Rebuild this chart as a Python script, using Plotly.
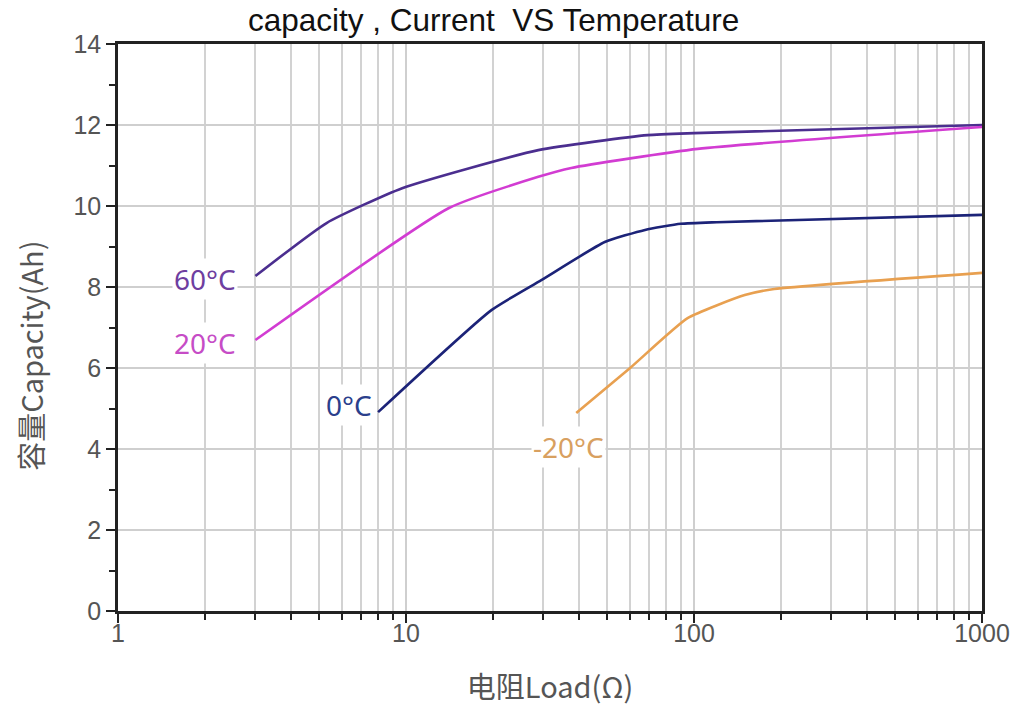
import math
import plotly.graph_objects as go

# Data (load in ohms, capacity in Ah)
load_60 = [3.0, 5.3, 9.7, 28.8, 69, 100, 1000]
cap_60 = [8.27, 9.58, 10.44, 11.38, 11.75, 11.8, 12.0]

load_20 = [3.0, 14.1, 28.8, 37.5, 103, 1000]
cap_20 = [6.69, 9.95, 10.72, 10.94, 11.41, 11.95]

load_0 = [8.0, 19.8, 29.5, 49, 67.6, 90, 120, 1000]
cap_0 = [4.91, 7.43, 8.17, 9.11, 9.41, 9.56, 9.6, 9.78]

load_m20 = [39, 60, 95, 150, 190, 1000]
cap_m20 = [4.89, 6.0, 7.23, 7.8, 7.95, 8.35]

series_names = ["60°C", "20°C", "0°C", "-20°C"]
line_colors = ["#4b2e8f", "#d23cd2", "#1c2378", "#e8a050"]
label_colors = ["#6e3ea0", "#c64cc6", "#2b3f8c", "#d8a060"]
label_x = [2.0, 2.0, 6.35, 36.6]
label_y = [8.2, 6.62, 5.09, 4.05]

x_major = [1, 10, 100, 1000]
x_major_text = ["1", "10", "100", "1000"]
x_minor = [m * d for d in (1, 10, 100) for m in range(2, 10)]

fig = go.Figure()
for xs, ys, name, col in zip([load_60, load_20, load_0, load_m20],
                             [cap_60, cap_20, cap_0, cap_m20],
                             series_names, line_colors):
    fig.add_trace(go.Scatter(x=xs, y=ys, mode="lines", name=name,
                             line=dict(color=col, width=2.6, shape="spline", smoothing=0.5),
                             showlegend=False))

for name, col, lx, ly in zip(series_names, label_colors, label_x, label_y):
    fig.add_annotation(x=math.log10(lx), y=ly, xref="x", yref="y", text=name,
                       showarrow=False, bgcolor="white",
                       font=dict(family="Noto Sans", size=28, color=col))

# y-axis title (placed slightly below plot centre, as in the reference)
fig.add_annotation(x=0, y=0.45, xref="paper", yref="paper", xshift=-88,
                   text="容量Capacity(Ah)", textangle=-90, showarrow=False,
                   xanchor="center", yanchor="middle",
                   font=dict(family="Noto Sans CJK SC", size=29, color="#555"))

fig.update_layout(
    width=1022, height=711,
    margin=dict(l=118, r=36, t=44, b=100),
    paper_bgcolor="white", plot_bgcolor="white",
    title=dict(text="capacity , Current  VS Temperature", x=0.483, xanchor="center",
               y=0.988, yanchor="top",
               font=dict(family="Liberation Sans, Arial", size=31.5, color="#111")),
)

fig.update_xaxes(
    type="log", range=[0, 3],
    tickvals=x_major, ticktext=x_major_text,
    ticks="outside", ticklen=9, tickwidth=2, tickcolor="#222",
    ticklabelstandoff=-11,
    showline=True, linecolor="#222", linewidth=2.5, mirror=True,
    showgrid=True, gridcolor="#cfcfcf", gridwidth=1.5,
    minor=dict(tickvals=x_minor, ticks="outside", ticklen=6, tickwidth=2,
               tickcolor="#222", showgrid=True, gridcolor="#d2d2d2", gridwidth=1.5),
    tickfont=dict(family="Liberation Sans, Arial", size=25, color="#555"),
    title=dict(text="电阻Load(Ω)", standoff=32,
               font=dict(family="Noto Sans CJK SC", size=29, color="#555")),
    zeroline=False,
)
fig.update_yaxes(
    range=[0, 14], dtick=2, tick0=0,
    ticks="outside", ticklen=9, tickwidth=2, tickcolor="#222",
    showline=True, linecolor="#222", linewidth=2.5, mirror=True,
    showgrid=True, gridcolor="#cfcfcf", gridwidth=1.5,
    minor=dict(dtick=1, ticks="outside", ticklen=6, tickwidth=2, tickcolor="#222",
               showgrid=False),
    tickfont=dict(family="Liberation Sans, Arial", size=25, color="#555"),
    zeroline=False,
)

fig.write_html("out.html")
